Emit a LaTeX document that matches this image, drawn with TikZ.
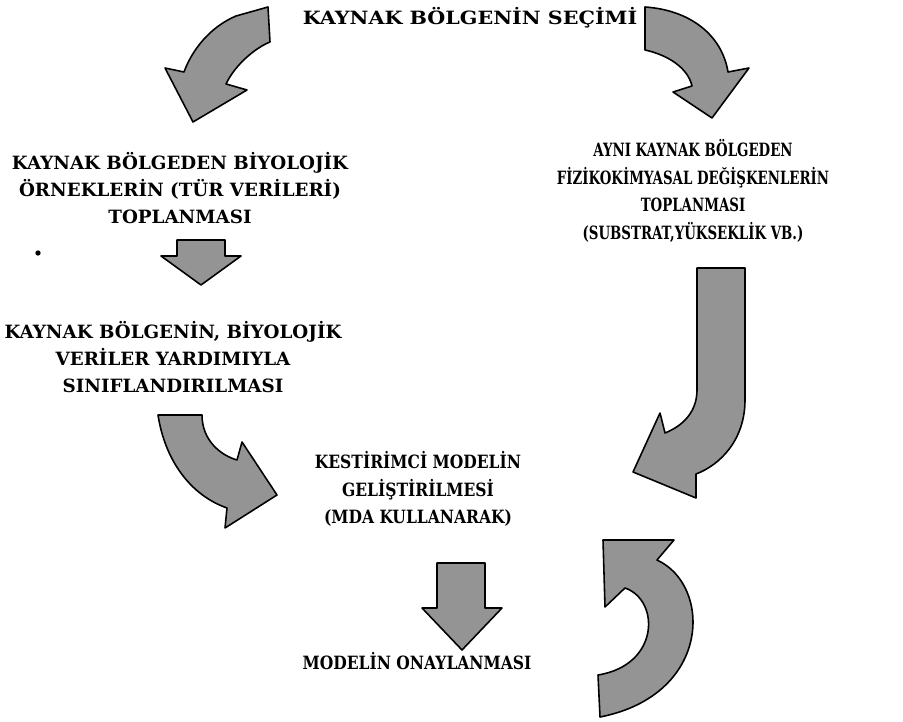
\documentclass[tikz,border=0pt]{standalone}
\usepackage{fontspec}
\setmainfont{DejaVu Serif}
\newfontfamily\genis{DejaVu Serif}[FakeStretch=1.13]
\newfontfamily\orta{DejaVu Serif}[FakeStretch=1.0]
\newfontfamily\biraz{DejaVu Serif}[FakeStretch=0.85]
\newfontfamily\dar{DejaVu Serif}[FakeStretch=0.73]
\definecolor{okgri}{RGB}{148,148,148}
\begin{document}
\begin{tikzpicture}[x=0.02cm, y=-0.02cm, line join=round,
	blok/.style={fill=okgri, draw=black, line width=0.9pt},
	metin/.style={font=#1\bfseries\fontsize{10.4}{15.6}\selectfont, align=center, inner sep=0pt},
	metin/.default=\orta]
	
	\useasboundingbox (0,0) rectangle (903,722);
	
	% kavisli oklar
	\draw[blok] (268,7) -- (270,42) .. controls (255,48) and (235,65) .. (226,84) -- (247,90) -- (193,122) -- (165,68) -- (184,72) .. controls (192,50) and (210,27) .. (236,16) -- cycle;
	\draw[blok] (645,7) -- (645,50) .. controls (668,55) and (688,68) .. (692,86) -- (673,92) -- (712,118) -- (749,68) -- (728,72) .. controls (722,35) and (690,10) .. (645,7) -- cycle;
	\draw[blok] (697,268) -- (745,268) -- (745,400) .. controls (745,440) and (720,465) .. (696,474) -- (696,498) -- (633,472) -- (660,413) -- (665,433) .. controls (685,425) and (697,410) .. (697,390) -- cycle;
	\draw[blok] (158,415) -- (202,415) .. controls (202,440) and (220,455) .. (237,460) -- (242,442) -- (277,495) -- (225,528) -- (227,508) .. controls (190,495) and (165,460) .. (158,415) -- cycle;
	\draw[blok] (603,540) -- (674,540) -- (657,560) .. controls (712,585) and (712,695) .. (600,717) -- (598,675) .. controls (660,665) and (660,600) .. (625,588) -- (605,607) -- cycle;
	
	% duz oklar
	\draw[blok] (177,240) -- (225,240) -- (225,256) -- (241,256) -- (201,285) -- (161,256) -- (177,256) -- cycle;
	\draw[blok] (437,563) -- (485,563) -- (485,608) -- (502,608) -- (462,650) -- (422,608) -- (437,608) -- cycle;
	
	\fill (38,253) circle (1.5pt);
	
	% metinler
	\node[metin=\genis] (baslik) at (470,18) {KAYNAK BÖLGENİN SEÇİMİ};
	\node[metin] (biyo) at (180,188) {KAYNAK BÖLGEDEN BİYOLOJİK\\ÖRNEKLERİN (TÜR VERİLERİ)\\TOPLANMASI};
	\node[metin=\dar] (fizik) at (693,191) {AYNI KAYNAK BÖLGEDEN\\FİZİKOKİMYASAL DEĞİŞKENLERİN\\TOPLANMASI\\(SUBSTRAT,YÜKSEKLİK VB.)};
	\node[metin] (sinif) at (173,357) {KAYNAK BÖLGENİN, BİYOLOJİK\\VERİLER YARDIMIYLA\\SINIFLANDIRILMASI};
	\node[metin=\biraz] (model) at (418,489) {KESTİRİMCİ MODELİN\\GELİŞTİRİLMESİ\\(MDA KULLANARAK)};
	\node[metin=\biraz] (onay) at (417,661) {MODELİN ONAYLANMASI};
	
\end{tikzpicture}
\end{document}
